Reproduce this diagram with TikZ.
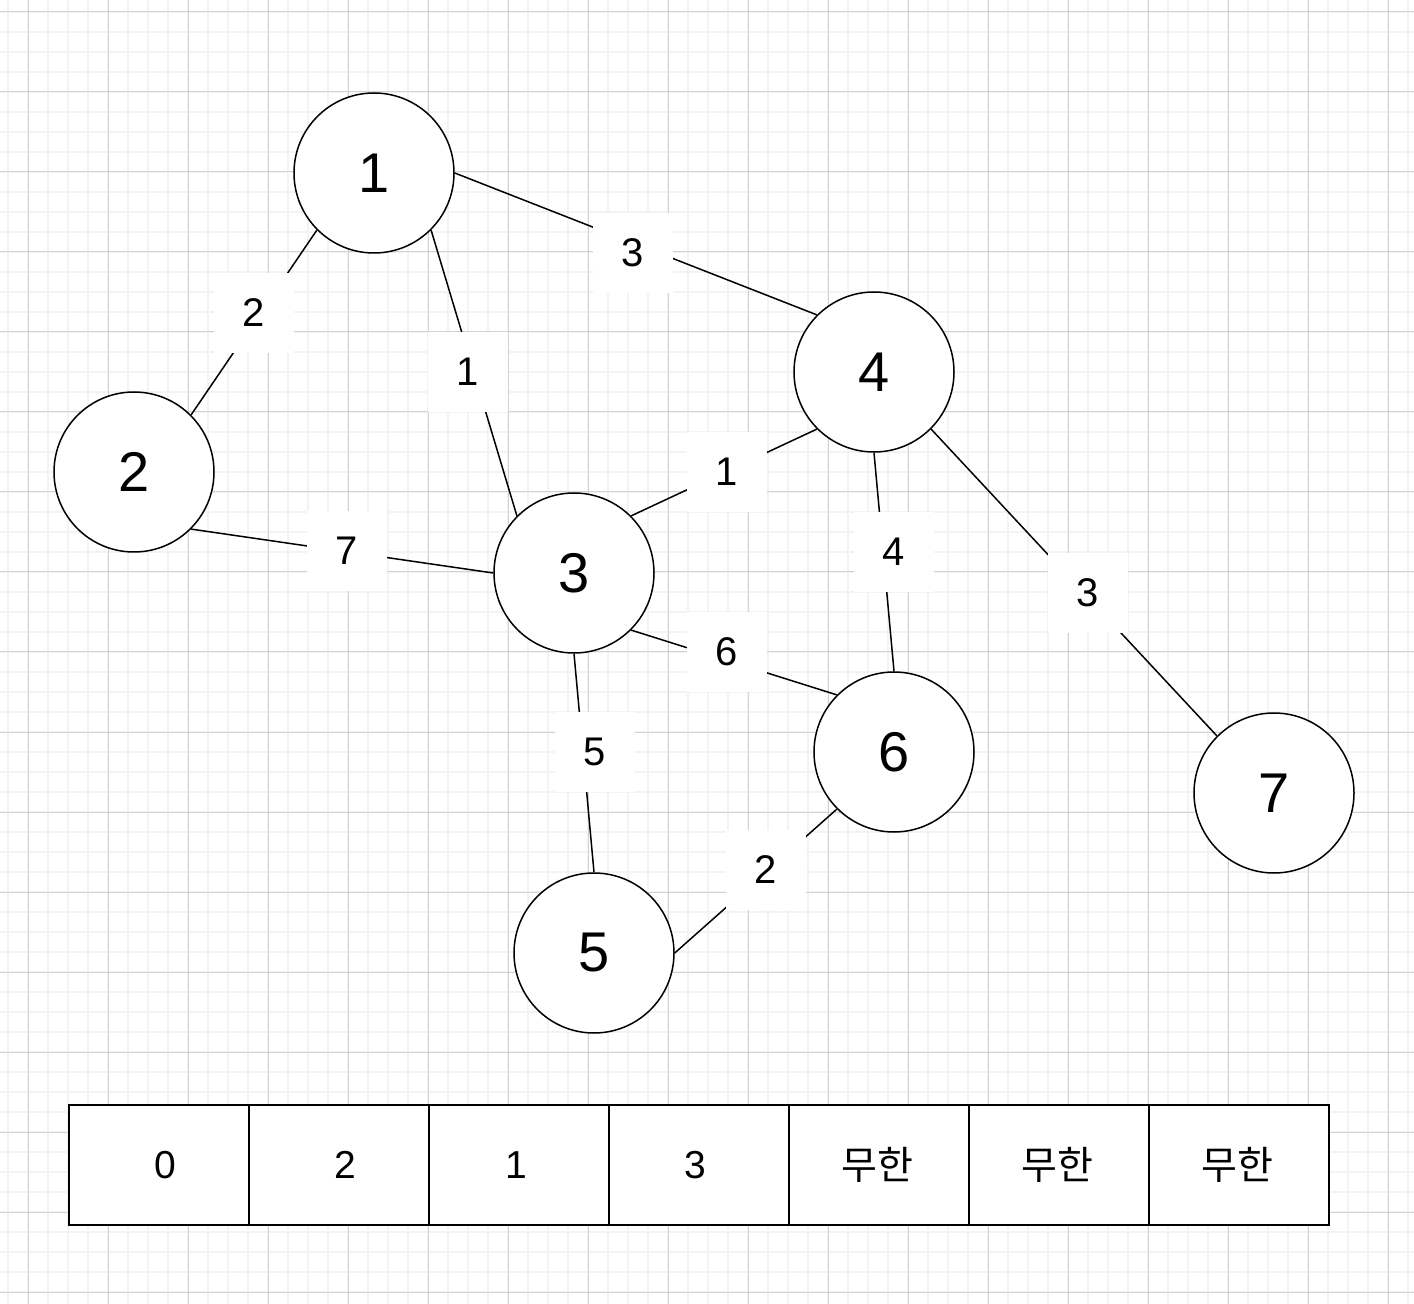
\documentclass[tikz,border=0pt]{standalone}
\usepackage{fontspec}
\setmainfont{Liberation Sans}
\newfontfamily\krfont{Noto Sans CJK KR}
\definecolor{minorgray}{HTML}{F3F3F3}
\definecolor{majorgray}{HTML}{D2D2D2}
\tikzset{
  vert/.style={circle, draw, line width=0.75pt, fill=white, minimum size=80pt, inner sep=0pt, font=\fontsize{28}{30}\selectfont},
  wlabel/.style={fill=white, minimum size=40pt, inner sep=0pt, font=\fontsize{20}{22}\selectfont},
  cellbox/.style={draw, line width=1pt, fill=white, minimum width=90pt, minimum height=60pt, inner sep=0pt},
  celltext/.style={font=\fontsize{19.5}{22}\selectfont},
  edge/.style={line width=0.75pt}
}
\begin{document}
\begin{tikzpicture}[x=0.5pt, y=-0.5pt]
    \useasboundingbox (0,0) rectangle (1414,1304);
    \fill[white] (0,0) rectangle (1414,1304);
    % background grid
    \foreach \gx in {8,28,...,1408}
        \draw[minorgray, line width=1pt] (\gx,0) -- (\gx,1304);
    \foreach \gy in {12,32,...,1300}
        \draw[minorgray, line width=1pt] (0,\gy) -- (1414,\gy);
    \foreach \gx in {28,108,...,1408}
        \draw[majorgray, line width=0.5pt] (\gx,0) -- (\gx,1304);
    \foreach \gy in {12,92,...,1300}
        \draw[majorgray, line width=0.5pt] (0,\gy) -- (1414,\gy);
    % vertices
    \node (n1) at (374,173) [vert] {1};
    \node (n2) at (134,472) [vert] {2};
    \node (n3) at (574,573) [vert] {3};
    \node (n4) at (874,372) [vert] {4};
    \node (n5) at (594,953) [vert] {5};
    \node (n6) at (894,752) [vert] {6};
    \node (n7) at (1274,793) [vert] {7};
    % edges
    \draw[edge] (n1.225) -- (n2.45);
    \draw[edge] (n1.-45) -- (n3.135);
    \draw[edge] (n1.east) -- (n4.135);
    \draw[edge] (n2.-45) -- (n3.west);
    \draw[edge] (n3.45) -- (n4.225);
    \draw[edge] (n3.-45) -- (n6.135);
    \draw[edge] (n3.south) -- (n5.north);
    \draw[edge] (n4.south) -- (n6.north);
    \draw[edge] (n4.-45) -- (n7.135);
    \draw[edge] (n5.east) -- (n6.225);
    % weights
    \node (l12) at (254,313) [wlabel] {2};
    \node (l13) at (468,372) [wlabel] {1};
    \node (l14) at (633,253) [wlabel] {3};
    \node (l23) at (347,551) [wlabel] {7};
    \node (l34) at (727,472) [wlabel] {1};
    \node (l46) at (894,552) [wlabel] {4};
    \node (l47) at (1088,593) [wlabel] {3};
    \node (l36) at (727,652) [wlabel] {6};
    \node (l35) at (595,752) [wlabel] {5};
    \node (l56) at (766,870) [wlabel] {2};
    % distance table
    \foreach \i/\tx/\val in {1/165/0, 2/345/2, 3/516/1, 4/695/3, 5/877/{\krfont 무한}, 6/1057/{\krfont 무한}, 7/1237/{\krfont 무한}} {
        \node (c\i) at ({159+180*(\i-1)},1165) [cellbox] {};
        \node (t\i) at (\tx,1165) [celltext] {\val};
    }
\end{tikzpicture}
\end{document}
